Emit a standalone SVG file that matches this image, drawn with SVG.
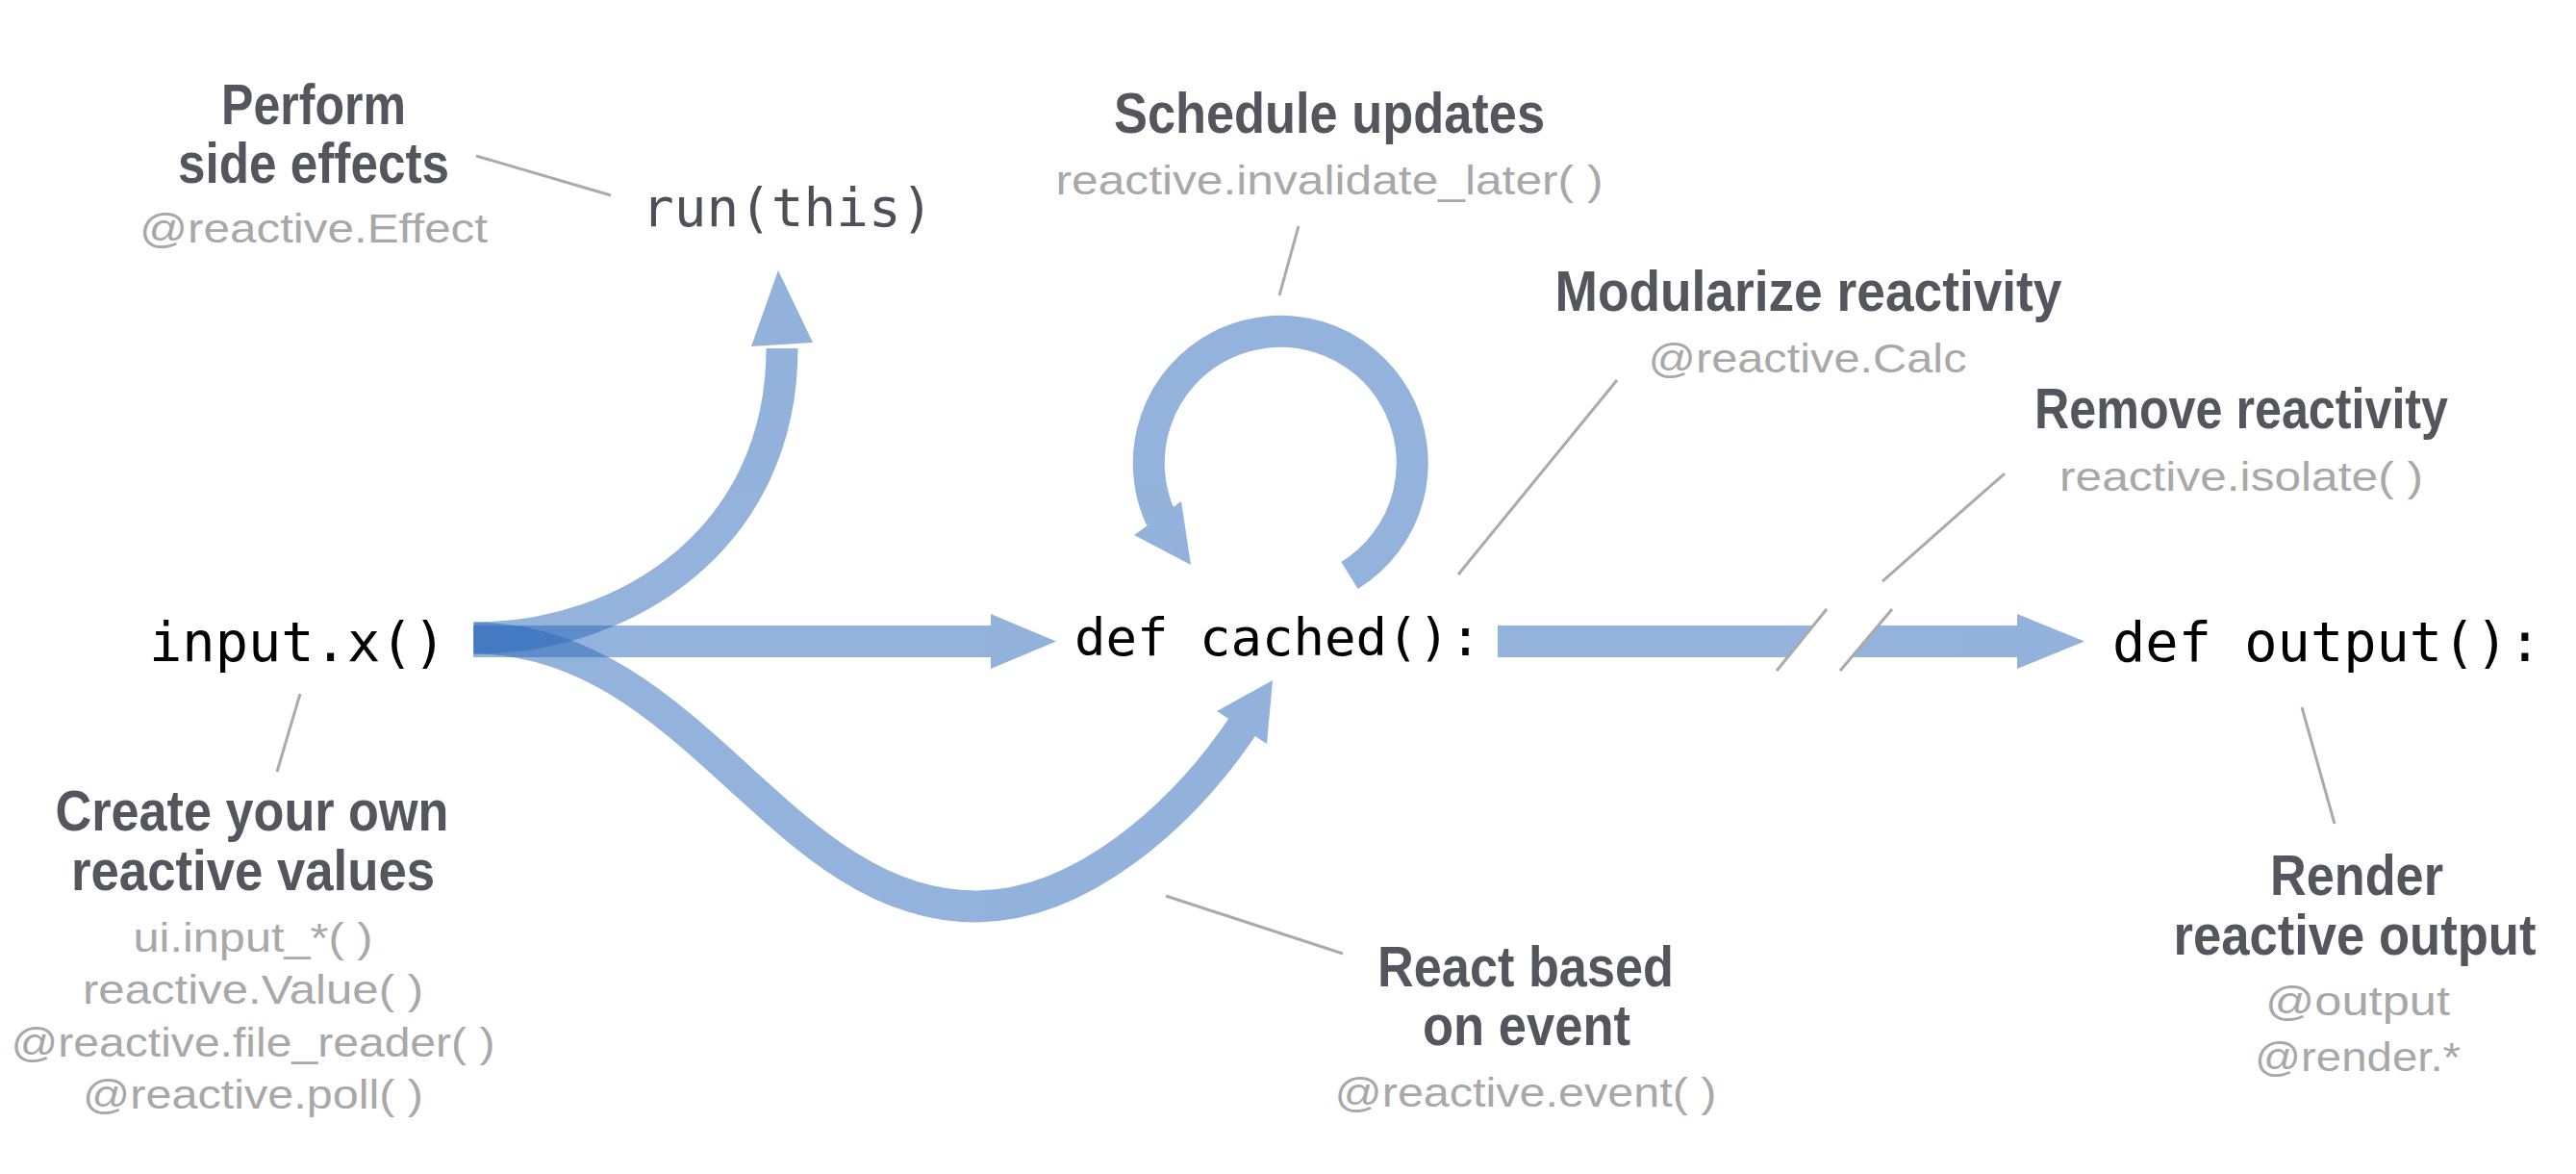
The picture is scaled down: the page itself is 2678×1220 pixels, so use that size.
<svg xmlns="http://www.w3.org/2000/svg" width="2678" height="1220" viewBox="0 0 2678 1220">
<style>
.code{font-family:"DejaVu Sans Mono",monospace;fill:#000}
.title{font-family:"Liberation Sans",Arial,sans-serif;font-weight:bold;font-size:59px;fill:#53565c;text-anchor:middle}
.sub{font-family:"Liberation Sans",Arial,sans-serif;font-size:43px;fill:#a8a8a8;text-anchor:middle}
.leader{stroke:#aaaaaa;stroke-width:3;fill:none}
.arrow{opacity:0.5}
.band{stroke:#2967b9;stroke-width:33;fill:none}
.head{fill:#2967b9}
</style>
<rect width="2678" height="1220" fill="#ffffff"/>
<g id="connectors">
  <g id="arrow-input-run" class="arrow">
    <path class="band" d="M493,663 C653,663 813,558 813,362"/>
    <polygon class="head" points="781,360 845,356 809,281"/>
  </g>
  <g id="arrow-input-cached" class="arrow">
    <path class="band" d="M492,666.5 H1032"/>
    <polygon class="head" points="1030,638 1098,666.5 1030,695"/>
  </g>
  <g id="arrow-input-cached-event" class="arrow">
    <path class="band" d="M492,663 C720,663 810,942 1014,942 C1124,942 1230,847 1293,753"/>
    <polygon class="head" points="1265,739 1323,707 1317,773"/>
  </g>
  <g id="arrow-cached-loop" class="arrow">
    <path class="band" d="M1403,598 A137,137 0 1 0 1207,539"/>
    <polygon class="head" points="1179,556 1228,521 1238,587"/>
  </g>
  <g id="arrow-cached-output" class="arrow">
    <path class="band" d="M1557,666.5 H2099"/>
    <polygon class="head" points="2097,638 2167,666.5 2097,695"/>
  </g>
  <g id="isolate-break">
    <polygon points="1899,633 1967,633 1913,697 1847,697" fill="#ffffff"/>
    <line class="leader" x1="1899" y1="633" x2="1847" y2="697"/>
    <line class="leader" x1="1967" y1="633" x2="1913" y2="697"/>
  </g>
  <g id="leaders">
    <line class="leader" x1="495" y1="162" x2="635" y2="203"/>
    <line class="leader" x1="1350" y1="235" x2="1330" y2="307"/>
    <line class="leader" x1="1681" y1="395" x2="1516" y2="597"/>
    <line class="leader" x1="2084" y1="492" x2="1957" y2="604"/>
    <line class="leader" x1="312" y1="721" x2="288" y2="802"/>
    <line class="leader" x1="1212" y1="931" x2="1396" y2="991"/>
    <line class="leader" x1="2393" y1="735" x2="2427" y2="856"/>
  </g>
</g>
<g id="node-input">
  <text class="code" x="155" y="687" font-size="57">input.x()</text>
</g>
<g id="node-run">
  <text class="code" x="667" y="235" font-size="56" style="fill:#4d5057">run(this)</text>
</g>
<g id="node-cached">
  <text class="code" x="1117" y="681" font-size="54">def cached():</text>
</g>
<g id="node-output">
  <text class="code" x="2196" y="687" font-size="57">def output():</text>
</g>
<g id="label-effect">
  <text class="title" x="326" y="129" font-size="51" textLength="192" lengthAdjust="spacingAndGlyphs">Perform</text>
  <text class="title" x="326" y="190" font-size="51" textLength="282" lengthAdjust="spacingAndGlyphs">side effects</text>
  <text class="sub" x="326" y="252" textLength="362" lengthAdjust="spacingAndGlyphs">@reactive.Effect</text>
</g>
<g id="label-schedule">
  <text class="title" x="1382" y="138" textLength="448" lengthAdjust="spacingAndGlyphs">Schedule updates</text>
  <text class="sub" x="1382" y="202" textLength="569" lengthAdjust="spacingAndGlyphs">reactive.invalidate_later( )</text>
</g>
<g id="label-calc">
  <text class="title" x="1880" y="323" textLength="527" lengthAdjust="spacingAndGlyphs">Modularize reactivity</text>
  <text class="sub" x="1879" y="387" textLength="331" lengthAdjust="spacingAndGlyphs">@reactive.Calc</text>
</g>
<g id="label-isolate">
  <text class="title" x="2330" y="445" textLength="430" lengthAdjust="spacingAndGlyphs">Remove reactivity</text>
  <text class="sub" x="2330" y="510" textLength="378" lengthAdjust="spacingAndGlyphs">reactive.isolate( )</text>
</g>
<g id="label-values">
  <text class="title" x="262" y="863" textLength="409" lengthAdjust="spacingAndGlyphs">Create your own</text>
  <text class="title" x="263" y="925" textLength="378" lengthAdjust="spacingAndGlyphs">reactive values</text>
  <text class="sub" x="263" y="989" textLength="249" lengthAdjust="spacingAndGlyphs">ui.input_*( )</text>
  <text class="sub" x="263" y="1043" textLength="354" lengthAdjust="spacingAndGlyphs">reactive.Value( )</text>
  <text class="sub" x="263" y="1098" textLength="503" lengthAdjust="spacingAndGlyphs">@reactive.file_reader( )</text>
  <text class="sub" x="263" y="1152" textLength="354" lengthAdjust="spacingAndGlyphs">@reactive.poll( )</text>
</g>
<g id="label-event">
  <text class="title" x="1586" y="1025" textLength="308" lengthAdjust="spacingAndGlyphs">React based</text>
  <text class="title" x="1587" y="1086" textLength="216" lengthAdjust="spacingAndGlyphs">on event</text>
  <text class="sub" x="1586" y="1150" textLength="397" lengthAdjust="spacingAndGlyphs">@reactive.event( )</text>
</g>
<g id="label-output">
  <text class="title" x="2450" y="930" textLength="180" lengthAdjust="spacingAndGlyphs">Render</text>
  <text class="title" x="2448" y="992" font-size="56" textLength="377" lengthAdjust="spacingAndGlyphs">reactive output</text>
  <text class="sub" x="2451" y="1055" textLength="192" lengthAdjust="spacingAndGlyphs">@output</text>
  <text class="sub" x="2451" y="1113" textLength="214" lengthAdjust="spacingAndGlyphs">@render.*</text>
</g>
</svg>
